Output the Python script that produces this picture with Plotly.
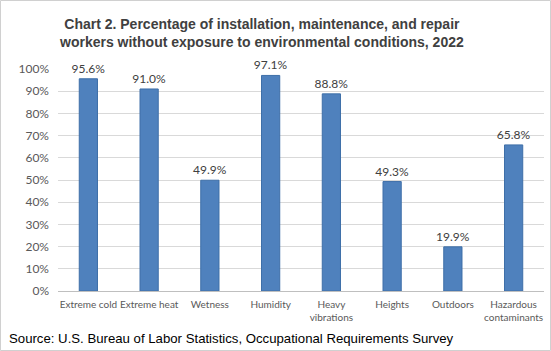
import plotly.graph_objects as go

categories = ["Extreme cold", "Extreme heat", "Wetness", "Humidity",
              "Heavy<br>vibrations", "Heights", "Outdoors", "Hazardous<br>contaminants"]
values = [95.6, 91.0, 49.9, 97.1, 88.8, 49.3, 19.9, 65.8]
tick_vals = [0, 10, 20, 30, 40, 50, 60, 70, 80, 90, 100]
tick_text = [f"{v}%" for v in tick_vals]

W, H = 551, 351
L, R, T, B = 58, 7, 69, 60
pw, ph = W - L - R, H - T - B

fig = go.Figure()
fig.add_trace(go.Bar(
    x=categories, y=values,
    marker=dict(color="#4F81BD", line=dict(color="#3E6FA8", width=1)),
    width=0.3,
    text=[f"{v:.1f}%" for v in values],
    textposition="outside",
    constraintext="none",
    textfont=dict(family="Lato, Open Sans, sans-serif", size=12, color="#404040"),
    cliponaxis=False,
))

fig.update_layout(
    width=W, height=H,
    margin=dict(l=L, r=R, t=T, b=B, autoexpand=False),
    paper_bgcolor="white", plot_bgcolor="white",
    showlegend=False,
    font=dict(family="Lato, Open Sans, sans-serif"),
    xaxis=dict(
        showgrid=False, showline=True, linecolor="#BFBFBF", linewidth=1,
        ticks="", tickangle=0, ticklabelstandoff=4,
        tickfont=dict(size=10, color="#595959", family="Lato, sans-serif"),
    ),
    yaxis=dict(
        range=[0, 100], tickvals=tick_vals, ticktext=tick_text,
        showgrid=True, gridcolor="#D9D9D9", gridwidth=1,
        zeroline=False, showline=False, ticks="", ticklabelstandoff=8,
        tickfont=dict(size=12, color="#595959", family="Lato, sans-serif"),
    ),
)

def px_x(x):
    return (x - L) / pw

def px_y(y):
    return (T + ph - y) / ph

fig.add_annotation(
    text="<b>Chart 2. Percentage of installation, maintenance, and repair<br>workers without exposure to environmental conditions, 2022</b>",
    xref="paper", yref="paper", x=px_x(261), y=px_y(33),
    xanchor="center", yanchor="middle", showarrow=False, align="center",
    font=dict(size=14, color="#404040", family="Liberation Sans, Arial, sans-serif"),
)

fig.add_annotation(
    text="Source: U.S. Bureau of Labor Statistics, Occupational Requirements Survey",
    xref="paper", yref="paper",
    x=px_x(7), y=px_y(338),
    xanchor="left", yanchor="middle", showarrow=False,
    font=dict(size=13.2, color="#000000", family="Liberation Sans, Arial, sans-serif"),
)

fig.add_shape(
    type="rect", xref="paper", yref="paper",
    x0=px_x(0.5), x1=px_x(W - 0.5),
    y0=px_y(H - 0.5), y1=px_y(0.5),
    line=dict(color="#D0D0D0", width=1), fillcolor="rgba(0,0,0,0)",
)

fig.write_html("out.html")
